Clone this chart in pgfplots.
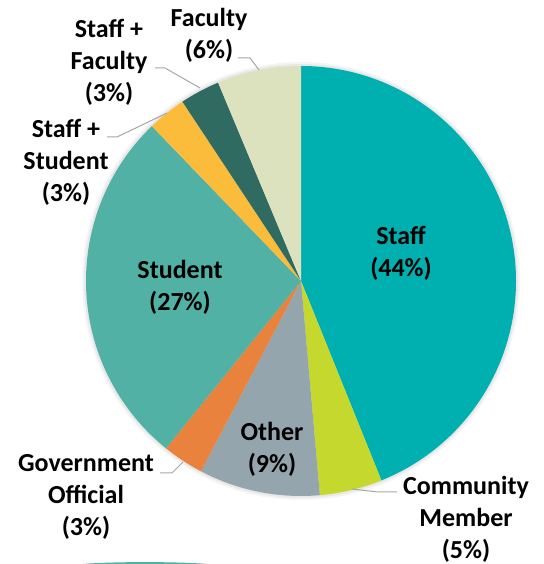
\documentclass[border=0pt]{standalone}
\usepackage{fontspec}
\setmainfont{Carlito}
\usepackage{pgfplots}
\pgfplotsset{compat=1.18}

\definecolor{cStaff}{HTML}{00B0B0}
\definecolor{cComm}{HTML}{C4D82E}
\definecolor{cOther}{HTML}{95A5AE}
\definecolor{cGov}{HTML}{E8823C}
\definecolor{cStud}{HTML}{52B1A5}
\definecolor{cSS}{HTML}{FBBC3C}
\definecolor{cSF}{HTML}{2F6B61}
\definecolor{cFac}{HTML}{DCE1BE}
\definecolor{leader}{HTML}{A6A6A6}

\tikzset{lbl/.style={font=\fontsize{26}{32}\selectfont\bfseries, align=center, text=black, inner sep=0pt}}

% centre and radius of the pie, in axis units (1 unit = 1pt)
\def\cx{301}
\def\cy{283}
\def\rr{215}

\def\cum{0}
% #1 = share in percent, #2 = colour; slices run clockwise from 12 o'clock
\newcommand\slice[2]{%
  \pgfmathsetmacro\sa{90-3.6*\cum}%
  \pgfmathsetmacro\sb{90-3.6*(\cum+#1)}%
  \pgfmathsetmacro\px{\cx+\rr*cos(\sa)}%
  \pgfmathsetmacro\py{\cy+\rr*sin(\sa)}%
  \pgfmathsetmacro\cum{\cum+#1}%
  \edef\temp{\noexpand\fill[#2] (axis cs:\cx,\cy) -- (axis cs:\px,\py)
    arc[start angle=\sa,end angle=\sb,radius=\rr pt] -- cycle;}%
  \temp}

\begin{document}
\begin{tikzpicture}
\begin{axis}[
  scale only axis, width=543pt, height=564pt,
  xmin=0, xmax=543, ymin=0, ymax=564,
  hide axis, clip=false,
]
% soft edge around the pie
\fill[black!4] (axis cs:\cx,\cy) circle[radius=219pt];
\fill[black!9] (axis cs:\cx,\cy) circle[radius=217pt];

\slice{43.9}{cStaff}
\slice{4.7}{cComm}
\slice{9.1}{cOther}
\slice{3.1}{cGov}
\slice{27.0}{cStud}
\slice{2.9}{cSS}
\slice{3.0}{cSF}
\slice{6.3}{cFac}

% leader lines
\draw[leader, line width=1pt] (axis cs:238,506) -- (axis cs:250,506) -- (axis cs:259,494);
\draw[leader, line width=1pt] (axis cs:155,496) -- (axis cs:165,496) -- (axis cs:200,476);
\draw[leader, line width=1pt] (axis cs:107,427) -- (axis cs:117,427) -- (axis cs:167,451);
\draw[leader, line width=1pt] (axis cs:160,91) -- (axis cs:172,91) -- (axis cs:183,102);
\draw[leader, line width=1pt] (axis cs:352,75) -- (axis cs:378,72) -- (axis cs:397,72);

% labels
\node[lbl] at (axis cs:401,311) {Staff\\(44\%)};
\node[lbl] at (axis cs:180,277) {Student\\(27\%)};
\node[lbl] at (axis cs:272,115) {Other\\(9\%)};
\node[lbl] at (axis cs:209,529) {Faculty\\(6\%)};
\node[lbl] at (axis cs:109,502) {Staff +\\Faculty\\(3\%)};
\node[lbl] at (axis cs:66,402) {Staff +\\Student\\(3\%)};
\node[lbl] at (axis cs:86,67) {Government\\Official\\(3\%)};
\node[lbl] at (axis cs:466,45) {Community\\Member\\(5\%)};

% edge of the next shape, cut off at the bottom
\fill[cStud] (axis cs:83,0) .. controls (axis cs:110,2.5) and (axis cs:180,2.5) .. (axis cs:207,0) -- cycle;
\end{axis}
\pgfresetboundingbox
\path (0,0) rectangle (543pt,564pt);
\end{tikzpicture}
\end{document}
